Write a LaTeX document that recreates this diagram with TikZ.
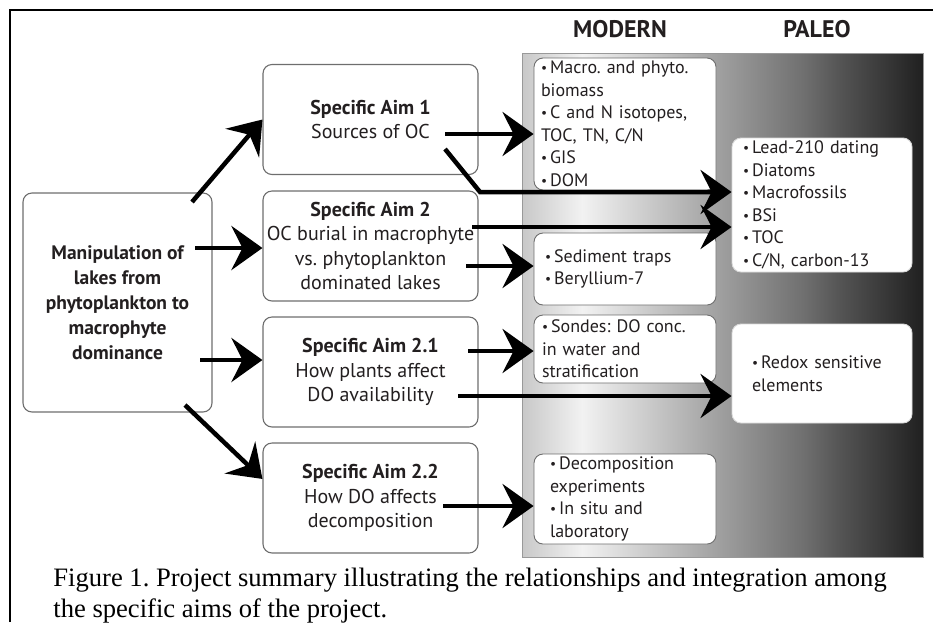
\documentclass[tikz,border=0pt]{standalone}
\usepackage{fontspec}
\usepackage{graphicx}
\setmainfont{Liberation Serif}
\newfontfamily\boxfont{PT Sans}
\usetikzlibrary{arrows.meta}

\definecolor{shA}{HTML}{C8C8C8}
\definecolor{shB}{HTML}{F2F2F2}
\definecolor{shC}{HTML}{A0A0A0}
\definecolor{shD}{HTML}{707070}
\definecolor{shE}{HTML}{555555}
\definecolor{shF}{HTML}{202020}
\definecolor{inkgray}{HTML}{231F20}
\definecolor{edgegray}{HTML}{6E6E6E}
\pgfdeclarehorizontalshading{paleoshade}{100bp}{color(0bp)=(shA); color(25bp)=(shA); color(32.5bp)=(shB); color(49.5bp)=(shC); color(60bp)=(shD); color(64.5bp)=(shE); color(75bp)=(shF); color(100bp)=(shF)}

\newcommand{\bul}{\raisebox{0.12ex}{\scalebox{0.75}{•}}\,}
\frenchspacing

\tikzset{every picture/.style={line width=0.75pt}}
\tikzset{
  aimbox/.style={draw=edgegray, line width=1.1pt, rounded corners=9pt, fill=white, minimum width=215pt, minimum height=110pt, inner sep=0pt, align=center, text=inkgray, font=\boxfont\fontsize{20}{24.5}\selectfont},
  listbox/.style={draw=edgegray, line width=0.9pt, rounded corners=9pt, fill=white, inner xsep=0pt, inner ysep=0pt, align=left, text=inkgray, font=\boxfont\fontsize{18}{22.5}\selectfont},
  paleobox/.style={listbox, draw=white!85!black},
  header/.style={text=inkgray, font=\boxfont\bfseries\fontsize{24}{26}\selectfont},
  bigarrow/.style={line width=4.5pt, draw=black, -{Stealth[length=31pt,width=44pt,inset=11pt]}}
}

\begin{document}
\begin{tikzpicture}[x=1pt,y=1pt,yscale=-1,xscale=1]
\useasboundingbox (0,0) rectangle (933,622);

% frame
\draw [line width=1.8pt] (10,622) -- (10,10) -- (933,10) ;

% shaded panel
\shadedraw [shading=paleoshade, draw=gray!80] (522,53) rectangle (923,557) ;

% Column headers
\node (hdrModern) [header] at (620,29) {MODERN};
\node (hdrPaleo) [header] at (817,29) {PALEO};

% Manipulation box
\node (manip) [aimbox, minimum width=189pt, minimum height=219pt, font=\boxfont\bfseries\fontsize{19.5}{25}\selectfont] at (117.5,302.5) {Manipulation of\\lakes from\\phytoplankton to\\macrophyte\\dominance};

% Specific aims
\node (aimA) [aimbox] at (370.5,119.5) {\textbf{Specific Aim 1}\\Sources of OC};
\node (aimB) [aimbox] at (370.5,246) {\textbf{Specific Aim 2}\\OC burial in macrophyte\\vs. phytoplankton\\dominated lakes};
\node (aimC) [aimbox] at (370.5,372) {\textbf{Specific Aim 2.1}\\How plants affect\\DO availability};
\node (aimD) [aimbox] at (370.5,498) {\textbf{Specific Aim 2.2}\\How DO affects\\decomposition};

% Modern column
\node (modA) [listbox, minimum width=182pt, minimum height=132pt, text width=168pt] at (625,124) {\bul Macro. and phyto.\\biomass\\\bul C and N isotopes,\\TOC, TN, C/N\\\bul GIS\\\bul DOM};
\node (modB) [listbox, minimum width=182pt, minimum height=72pt, text width=160pt] at (625,269) {\bul Sediment traps\\\bul Beryllium-7};
\node (modC) [listbox, minimum width=182pt, minimum height=68pt, text width=166pt] at (625,349) {\bul Sondes: DO conc.\\in water and\\stratification};
\node (modD) [listbox, minimum width=182pt, minimum height=90pt, text width=150pt] at (625,499) {\bul Decomposition\\experiments\\\bul In situ and\\laboratory};

% Paleo column
\node (paleoA) [paleobox, minimum width=180pt, minimum height=134pt, text width=158pt] at (822,205) {\bul Lead-210 dating\\\bul Diatoms\\\bul Macrofossils\\\bul BSi\\\bul TOC\\\bul C/N, carbon-13};
\node (paleoB) [paleobox, minimum width=180pt, minimum height=99pt, text width=140pt] at (822,373.5) {\bul Redox sensitive\\elements};

% arrow start points
\coordinate (mA) at (192,202);
\coordinate (mB) at (195,248);
\coordinate (mC) at (200,360);
\coordinate (mD) at (185,405);
\coordinate (oA) at (445,134);
\coordinate (oAb) at (445,149);
\coordinate (bendA) at (480,192);
\coordinate (oB) at (472,227);
\coordinate (oBb) at (466,266);
\coordinate (oC) at (468,351);
\coordinate (oCb) at (458,396);
\coordinate (oD) at (443,506);

% Manipulation -> aims
\draw [bigarrow] (mA) -- (aimA.west) ;
\draw [bigarrow] (mB) -- (aimB.west |- mB) ;
\draw [bigarrow] (mC) -- (aimC.west |- mC) ;
\draw [bigarrow] (mD) -- (aimD.170) ;

% aims -> modern / paleo
\draw [bigarrow] (oA) -- (modA.west |- oA) ;
\draw [bigarrow] (oAb) -- (bendA) -- (paleoA.west |- bendA) ;
\draw [bigarrow] (oB) -- (paleoA.west |- oB) ;
\draw [bigarrow] (oBb) -- (modB.west |- oBb) ;
\draw [bigarrow] (oC) -- (modC.west |- oC) ;
\draw [bigarrow] (oCb) -- (paleoB.west |- oCb) ;
\draw [bigarrow] (oD) -- (modD.west |- oD) ;

% Caption
\node (caption) [anchor=north west, inner sep=0pt, align=left, font=\fontsize{26.6}{31}\selectfont] at (53,568) {Figure 1. Project summary illustrating the relationships and integration among\\the specific aims of the project.};

\end{tikzpicture}
\end{document}
